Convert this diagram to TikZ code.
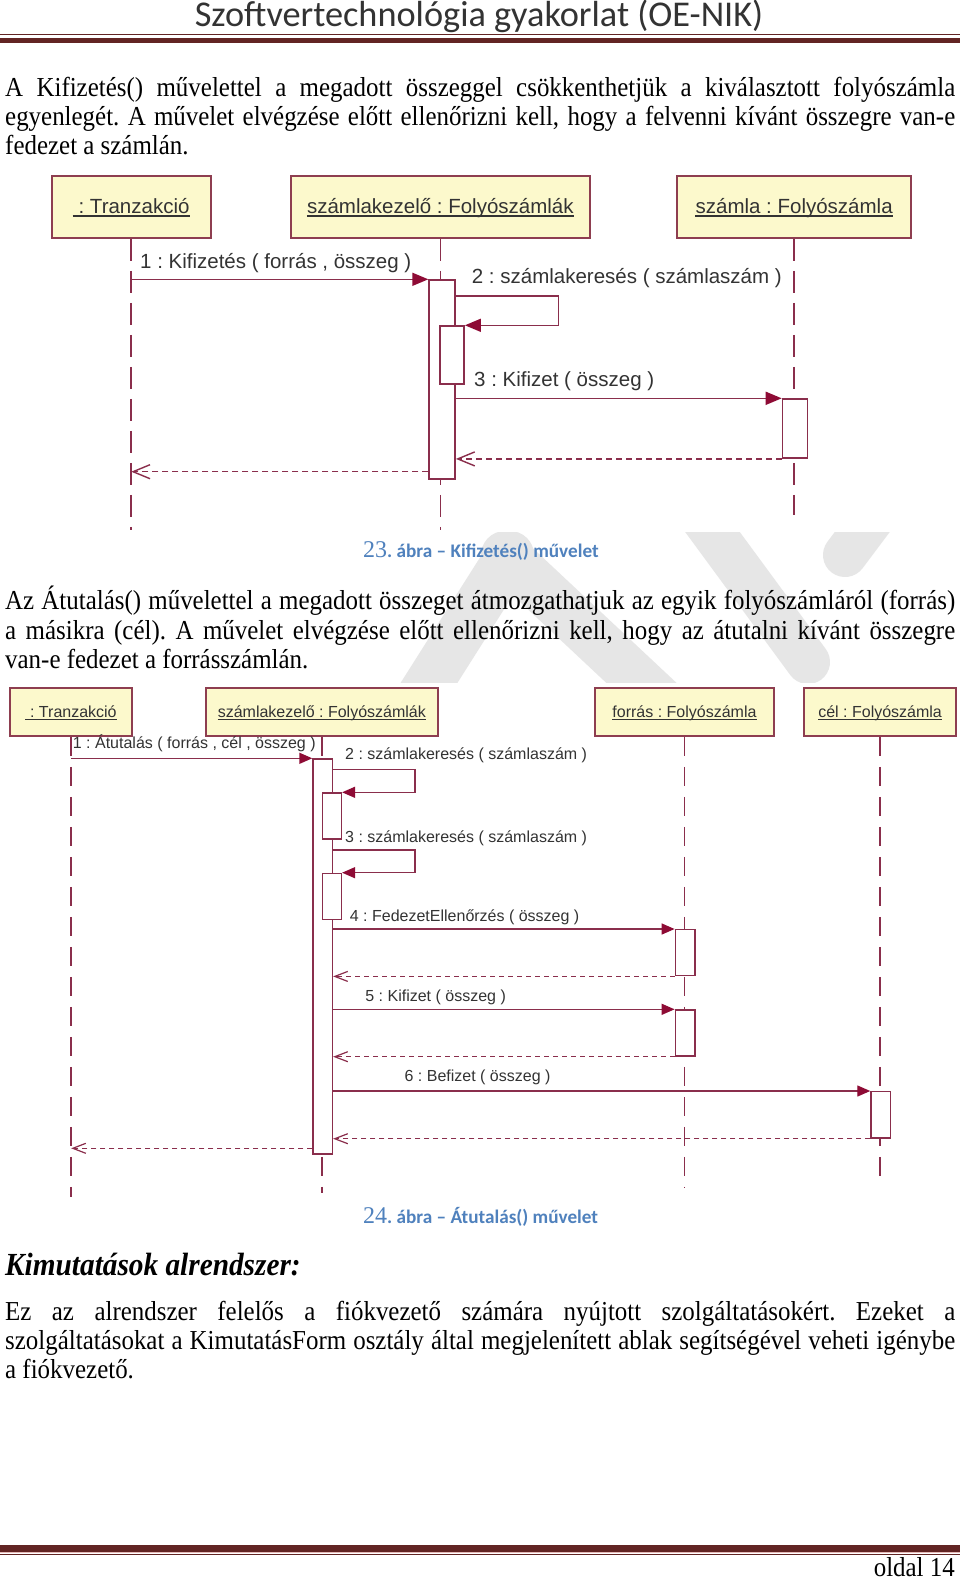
\documentclass[tikz,border=0pt]{standalone}
\usepackage{fontspec}
\usetikzlibrary{arrows.meta,calc}
\newfontfamily\bodyf[FakeStretch=0.91]{Liberation Serif}
\newfontfamily\headf{Carlito}
\newfontfamily\diagf{Liberation Sans}
\newfontfamily\capnumf{Liberation Serif}
\frenchspacing
\definecolor{hdrred}{HTML}{622423}
\definecolor{hdrpink}{HTML}{E6B9B8}
\definecolor{bordc}{HTML}{8E3E50}
\definecolor{linec}{HTML}{8A2E4C}
\definecolor{arrc}{HTML}{8E0B35}
\definecolor{boxfill}{HTML}{FCF9CC}
\definecolor{txtc}{HTML}{333333}
\definecolor{capblue}{HTML}{4F81BD}
\definecolor{wmgray}{HTML}{E6E6E6}
\tikzset{
  objbox/.style={draw=bordc, fill=boxfill, line width=1.8pt, inner sep=0pt},
  actbox/.style={draw=linec, fill=white, line width=1.6pt, inner sep=0pt, anchor=north west},
  actboxB/.style={draw=linec, fill=white, line width=1.4pt, inner sep=0pt, anchor=north west},
  lifeA/.style={draw=linec, line width=1.6pt, dash pattern=on 22pt off 10pt},
  lifeB/.style={draw=linec, line width=1.4pt, dash pattern=on 19pt off 11pt},
  msgA/.style={draw=linec, line width=1.6pt, -{Triangle[length=16pt,width=13pt,color=arrc]}},
  msgB/.style={draw=linec, line width=1.4pt, -{Triangle[length=13pt,width=11pt,color=arrc]}},
  retA/.style={draw=linec, line width=1.4pt, dash pattern=on 6pt off 4pt, -{Straight Barb[length=17pt,width=14pt,line width=1.4pt]}},
  retB/.style={draw=linec, line width=1.2pt, dash pattern=on 5pt off 4pt, -{Straight Barb[length=13pt,width=10pt,line width=1.2pt]}},
  lblA/.style={font=\diagf\fontsize{20.5}{24}\selectfont, text=txtc, inner sep=0pt, anchor=base west},
  lblB/.style={font=\diagf\fontsize{16}{19}\selectfont, text=txtc, inner sep=0pt, anchor=base west},
  olblA/.style={font=\diagf\fontsize{20.5}{24}\selectfont, text=txtc, inner sep=0pt, anchor=base},
  olblB/.style={font=\diagf\fontsize{16}{19}\selectfont, text=txtc, inner sep=0pt, anchor=base},
  ulA/.style={draw=txtc, line width=1.1pt},
  ulB/.style={draw=txtc, line width=0.9pt},
  bodytxt/.style={font=\bodyf\fontsize{27.4}{29}\selectfont, inner sep=0pt, anchor=base west},
  captxt/.style={inner sep=0pt, anchor=base west, text=capblue},
  wm/.style={draw=wmgray, line cap=round},
}
\newcommand{\fl}[1]{\makebox[950pt][s]{#1}}
\begin{document}
\begin{tikzpicture}[x=1pt,y=-1pt]
\useasboundingbox (0,0) rectangle (960,1580);
\fill[white] (0,0) rectangle (960,1580);

% watermark (visible between the two diagrams)
\begin{scope}
\clip (0,532) rectangle (960,682);
\draw[wm, line width=48pt] (415,705) -- (510,555);
\draw[wm, line width=48pt] (505,555) -- (665,705);
\draw[wm, line width=44pt] (700,515) -- (808,662);
\draw[wm, line width=44pt] (875,515) -- (845,555);
\end{scope}

% header
\node[font=\headf\fontsize{36.3}{40}\selectfont, text=black!80, inner sep=0pt, anchor=base] (hdr) at (479,26) {Szoftvertechnológia gyakorlat (OE-NIK)};
\draw[hdrred, line width=1.5pt] (0,34.3) -- (960,34.3);
\fill[hdrred] (0,37.7) rectangle (960,43.3);

% paragraph 1
\node[bodytxt] (p1a) at (5,96.5) {\fl{A Kifizetés() művelettel a megadott összeggel csökkenthetjük a kiválasztott folyószámla}};
\node[bodytxt] (p1b) at (5,125.5) {\fl{egyenlegét. A művelet elvégzése előtt ellenőrizni kell, hogy a felvenni kívánt összegre van-e}};
\node[bodytxt] (p1c) at (5,154.5) {fedezet a számlán.};

% ===== diagram 1 =====
\node[objbox, minimum width=159pt, minimum height=62pt] (t1) at (131.2,207) {};
\node[objbox, minimum width=299.3pt, minimum height=62pt] (k1) at (440.35,207) {};
\node[objbox, minimum width=233.7pt, minimum height=62pt] (s1) at (794.15,207) {};
\node[olblA] (t1l) at (131.2,213) {~: Tranzakció};
\node[olblA] (k1l) at (440.35,213) {számlakezelő : Folyószámlák};
\node[olblA] (s1l) at (794.15,213) {számla : Folyószámla};
\draw[ulA] ($(t1l.base west)+(0,3)$) -- ($(t1l.base east)+(0,3)$);
\draw[ulA] ($(k1l.base west)+(0,3)$) -- ($(k1l.base east)+(0,3)$);
\draw[ulA] ($(s1l.base west)+(0,3)$) -- ($(s1l.base east)+(0,3)$);

\coordinate (t1e) at (131.2,530);
\coordinate (k1e) at (440.35,530);
\coordinate (s1e) at (794.15,515);
\draw[lifeA] (t1.south) -- (t1e);
\draw[lifeA] (k1.south) -- (k1e);
\draw[lifeA] (s1.south) -- (s1e);

\node[actbox, minimum width=26pt, minimum height=199pt] (a1) at (428.3,279.3) {};
\node[actbox, minimum width=24pt, minimum height=58pt] (n1) at (439.3,325.3) {};
\node[actbox, minimum width=25pt, minimum height=59pt] (z1) at (781.7,398.3) {};

\draw[msgA] (t1e |- a1.north west) -- (a1.north west);
\coordinate (c2a) at (558.3,296);
\coordinate (c2b) at (558.3,325.3);
\draw[msgA] (a1.east |- c2a) -- (c2a) -- (c2b) -- (n1.north east);
\draw[msgA] (a1.east |- z1.north west) -- (z1.north west);
\draw[retA] (z1.south west) -- (a1.east |- z1.south west);
\coordinate (r1y) at (0,471.7);
\draw[retA] (a1.west |- r1y) -- (t1e |- r1y);

\node[lblA] (l11) at (140,268.3) {1 : Kifizetés ( forrás , összeg )};
\node[lblA] (l12) at (471.7,283.3) {2 : számlakeresés ( számlaszám )};
\node[lblA] (l13) at (474,386) {3 : Kifizet ( összeg )};

% caption 1
\node[captxt] (cap1) at (363,557) {{\capnumf\fontsize{24}{26}\selectfont 23}{\headf\bfseries\fontsize{19.2}{22}\selectfont. ábra – Kifizetés() művelet}};

% paragraph 2
\node[bodytxt] (p2a) at (5,609.5) {\fl{Az Átutalás() művelettel a megadott összeget átmozgathatjuk az egyik folyószámláról (forrás)}};
\node[bodytxt] (p2b) at (5,639.5) {\fl{a másikra (cél). A művelet elvégzése előtt ellenőrizni kell, hogy az átutalni kívánt összegre}};
\node[bodytxt] (p2c) at (5,668.5) {van-e fedezet a forrásszámlán.};

% ===== diagram 2 =====
\node[objbox, minimum width=122.3pt, minimum height=47.7pt] (t2) at (71.15,712.15) {};
\node[objbox, minimum width=231.7pt, minimum height=47.7pt] (k2) at (321.85,712.15) {};
\node[objbox, minimum width=179pt, minimum height=47.7pt] (f2) at (684.5,712.15) {};
\node[objbox, minimum width=151.8pt, minimum height=47.7pt] (c2) at (880.1,712.15) {};
\node[olblB] (t2l) at (71.15,717) {~: Tranzakció};
\node[olblB] (k2l) at (321.85,717) {számlakezelő : Folyószámlák};
\node[olblB] (f2l) at (684.5,717) {forrás : Folyószámla};
\node[olblB] (c2l) at (880.1,717) {cél : Folyószámla};
\draw[ulB] ($(t2l.base west)+(0,2.4)$) -- ($(t2l.base east)+(0,2.4)$);
\draw[ulB] ($(k2l.base west)+(0,2.4)$) -- ($(k2l.base east)+(0,2.4)$);
\draw[ulB] ($(f2l.base west)+(0,2.4)$) -- ($(f2l.base east)+(0,2.4)$);
\draw[ulB] ($(c2l.base west)+(0,2.4)$) -- ($(c2l.base east)+(0,2.4)$);

\coordinate (t2e) at (71.15,1196.7);
\coordinate (k2e) at (321.85,1193);
\coordinate (f2e) at (684.5,1187);
\coordinate (c2e) at (880.1,1181.5);
\draw[lifeB] (t2.south) -- (t2e);
\draw[lifeB] (k2.south) -- (k2e);
\draw[lifeB] (f2.south) -- (f2e);
\draw[lifeB] (c2.south) -- (c2e);

\node[actboxB, minimum width=19.4pt, minimum height=395pt] (a2) at (312.3,758.3) {};
\node[actboxB, minimum width=19pt, minimum height=46pt] (n2) at (321.7,792.3) {};
\node[actboxB, minimum width=19pt, minimum height=46.3pt] (n3) at (321.7,872.7) {};
\node[actboxB, minimum width=19.8pt, minimum height=46pt] (fa1) at (674.6,929) {};
\node[actboxB, minimum width=19.8pt, minimum height=46pt] (fa2) at (674.6,1009.3) {};
\node[actboxB, minimum width=19.7pt, minimum height=46.3pt] (ca1) at (870.25,1091) {};

\draw[msgB] (t2e |- a2.north west) -- (a2.north west);
\coordinate (d2a) at (415,769.3);
\coordinate (d2b) at (415,792.3);
\draw[msgB] (a2.east |- d2a) -- (d2a) -- (d2b) -- (n2.north east);
\coordinate (d3a) at (415,850);
\coordinate (d3b) at (415,872.7);
\draw[msgB] (a2.east |- d3a) -- (d3a) -- (d3b) -- (n3.north east);
\draw[msgB] (a2.east |- fa1.north west) -- (fa1.north west);
\draw[retB] (fa1.south west) -- (a2.east |- fa1.south west);
\draw[msgB] (a2.east |- fa2.north west) -- (fa2.north west);
\draw[retB] (fa2.south west) -- (a2.east |- fa2.south west);
\draw[msgB] (a2.east |- ca1.north west) -- (ca1.north west);
\draw[retB] (ca1.south west) -- (a2.east |- ca1.south west);
\coordinate (r2y) at (0,1148.3);
\draw[retB] (a2.west |- r2y) -- (t2e |- r2y);

\node[lblB] (l21) at (72.7,748.5) {1 : Átutalás ( forrás , cél , összeg )};
\node[lblB] (l22) at (345,759) {2 : számlakeresés ( számlaszám )};
\node[lblB] (l23) at (345,842) {3 : számlakeresés ( számlaszám )};
\node[lblB] (l24) at (349.7,921.5) {4 : FedezetEllenőrzés ( összeg )};
\node[lblB] (l25) at (365.2,1001.5) {5 : Kifizet ( összeg )};
\node[lblB] (l26) at (404.4,1081.5) {6 : Befizet ( összeg )};

% caption 2
\node[captxt] (cap2) at (363,1223) {{\capnumf\fontsize{24}{26}\selectfont 24}{\headf\bfseries\fontsize{19.2}{22}\selectfont. ábra – Átutalás() művelet}};

% heading and paragraph 3
\node[bodytxt, font=\bodyf\bfseries\itshape\fontsize{32.2}{34}\selectfont] (h3) at (5,1275) {Kimutatások alrendszer:};
\node[bodytxt] (p3a) at (5,1320) {\fl{Ez az alrendszer felelős a fiókvezető számára nyújtott szolgáltatásokért. Ezeket a}};
\node[bodytxt] (p3b) at (5,1349) {\fl{szolgáltatásokat a KimutatásForm osztály által megjelenített ablak segítségével veheti igénybe}};
\node[bodytxt] (p3c) at (5,1378) {a fiókvezető.};

% footer
\fill[hdrred] (0,1545) rectangle (960,1552.3);
\draw[hdrpink, line width=1pt] (0,1552.8) -- (960,1552.8);
\draw[hdrred, line width=1.5pt] (0,1554.3) -- (960,1554.3);
\node[bodytxt, anchor=base east] (pg) at (955,1576) {oldal 14};
\end{tikzpicture}
\end{document}
